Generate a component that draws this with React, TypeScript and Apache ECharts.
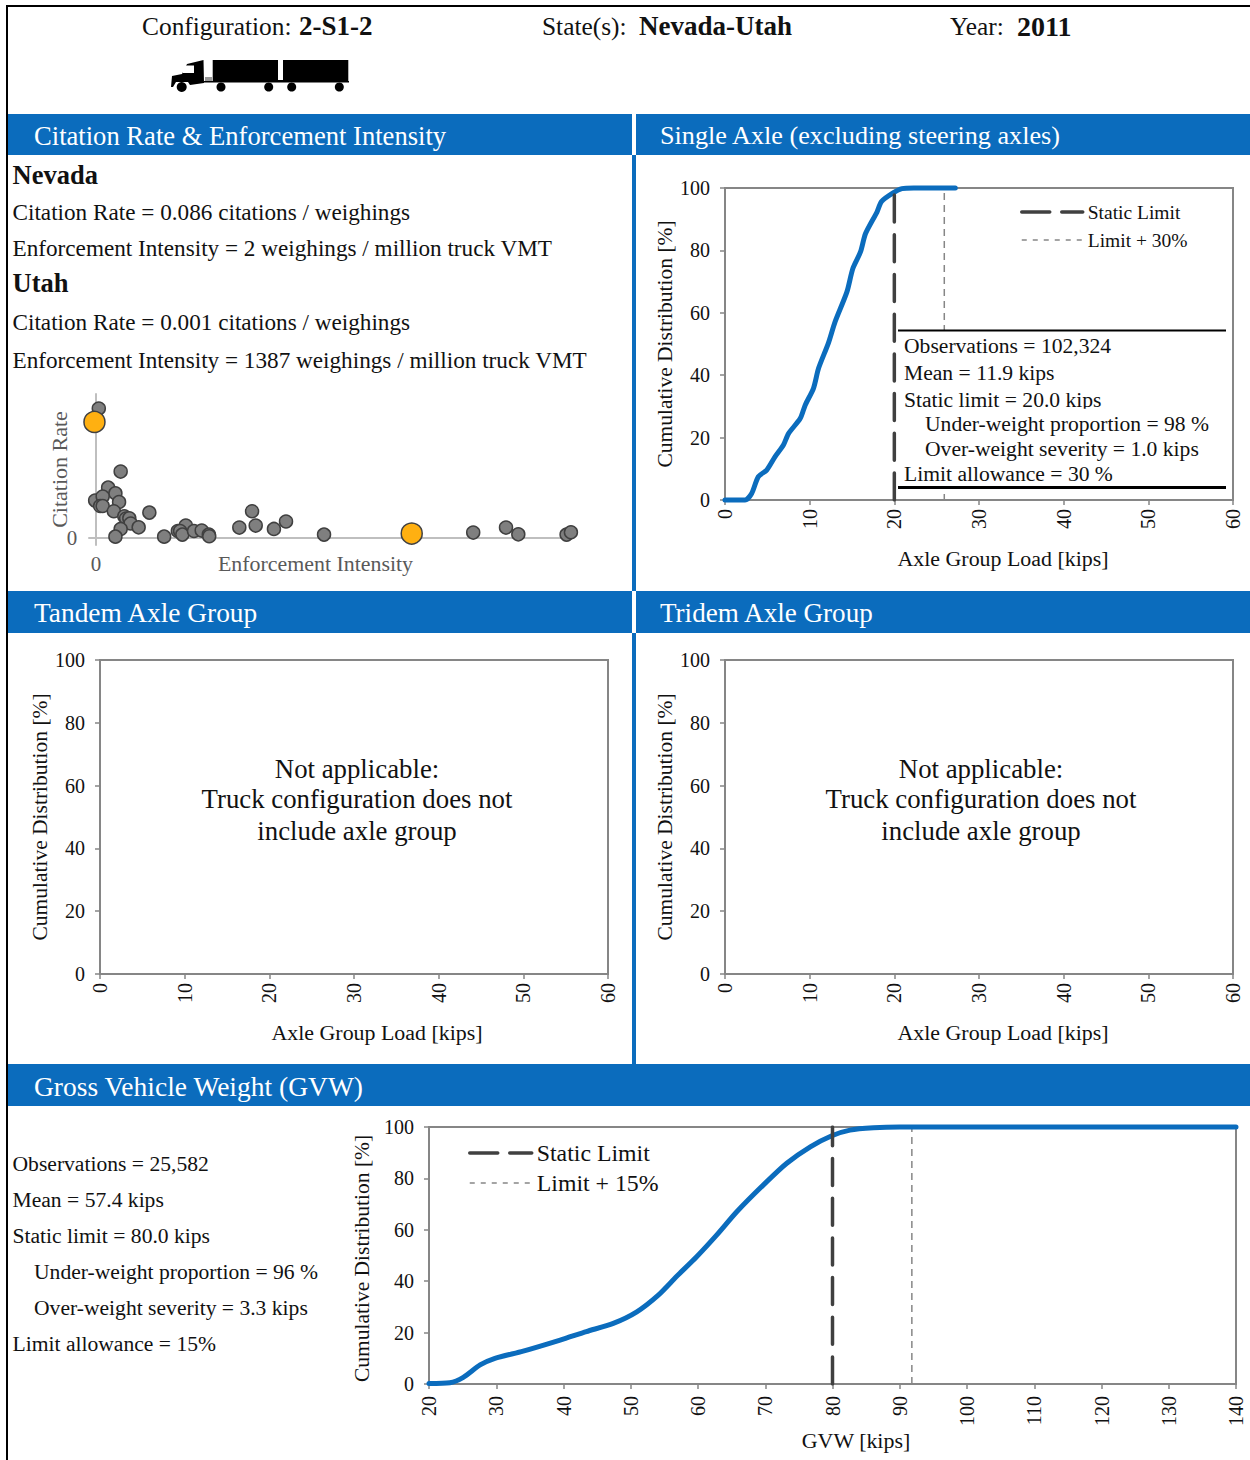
import React, { useEffect, useRef } from "react";
import * as echarts from "echarts";

const FONT = "'Liberation Serif', serif";
const BLUE = "#0B6CBD";
const GREY = "#868686";
const DARK = "#404040";
const INK = "#111111";

const singleAxle: number[][] = [[0,0],[2.37,0],[3.15,2.1],[3.94,7.5],[4.93,9.6],[5.92,13.9],[6.9,17.6],[7.5,21.3],[8.88,26.1],[9.47,30.4],[10.45,35.8],[11.05,42.2],[12.2,50.2],[13,57.1],[14.4,66.7],[15.1,74.2],[16,79.5],[16.6,85.4],[17.95,92.3],[18.5,95.7],[19.9,98.5],[20.9,99.8],[22.3,100],[27.2,100]];
const gvw: number[][] = [[20,0.2],[23.1,0.5],[25.1,2.6],[27.6,7.4],[29.8,10],[34,12.8],[39.5,17.1],[43.4,20.4],[47.4,23.6],[50.9,28.1],[54.1,34.6],[56.8,41.8],[59.8,49.5],[62.8,58],[65.8,67.1],[69.7,77.4],[73.2,85.9],[76.7,92.3],[79.9,96.6],[82.6,98.8],[86.1,99.7],[90,100],[140,100]];
const singleStatic: number[][] = [[20,0],[20,100]];
const singleLimit: number[][] = [[25.9,0],[25.9,100]];
const gvwStatic: number[][] = [[80,0],[80,100]];
const gvwLimit: number[][] = [[91.8,0],[91.8,100]];
const otherStates: number[][] = [[12,0.0959],[108,0.0492],[53,0.0373],[85,0.0331],[-4,0.0277],[29,0.0307],[18,0.0237],[29,0.0237],[101,0.0267],[78,0.0198],[124,0.0161],[132,0.0144],[146,0.0146],[152,0.0107],[187,0.0079],[108,0.0067],[85,0.001],[234,0.0188],[299,0.001],[394,0.0092],[359,0.0052],[369,0.0052],[379,0.0025],[430,0.0052],[464,0.0055],[495,0.0025],[497,0.0013],[629,0.0077],[701,0.0092],[781,0.0067],[685,0.0198],[834,0.0122],[1001,0.0025],[1656,0.004],[1800,0.0077],[1854,0.0027],[2066,0.0025],[2085,0.0042]];
const selectedStates: number[][] = [[-7,0.086],[1386,0.0033]];

const headers = [
  { text: "Citation Rate & Enforcement Intensity", x0: 8, x1: 632, y0: 114, y1: 155, tx: 34, size: 26.6 },
  { text: "Single Axle (excluding steering axles)", x0: 636, x1: 1250, y0: 114, y1: 155, tx: 660, size: 26.2 },
  { text: "Tandem Axle Group", x0: 8, x1: 632, y0: 591, y1: 633, tx: 34, size: 27.4 },
  { text: "Tridem Axle Group", x0: 636, x1: 1250, y0: 591, y1: 633, tx: 660, size: 27.1 },
  { text: "Gross Vehicle Weight (GVW)", x0: 8, x1: 1250, y0: 1064, y1: 1106, tx: 34, size: 27.5 },
];
const stateLines: [string, number, number, number, boolean][] = [
  ["Nevada", 12.5, 175, 26.5, true],
  ["Citation Rate = 0.086 citations / weighings", 12.5, 212, 23.2, false],
  ["Enforcement Intensity = 2 weighings / million truck VMT", 12.5, 248, 23.2, false],
  ["Utah", 12.5, 283, 26.5, true],
  ["Citation Rate = 0.001 citations / weighings", 12.5, 322, 23.2, false],
  ["Enforcement Intensity = 1387 weighings / million truck VMT", 12.5, 360, 23.2, false],
];
const singleStats: [string, number, number][] = [
  ["Observations = 102,324", 904, 346],
  ["Mean = 11.9 kips", 904, 373],
  ["Static limit = 20.0 kips", 904, 400],
  ["Under-weight proportion = 98 %", 925, 424],
  ["Over-weight severity = 1.0 kips", 925, 449],
  ["Limit allowance = 30 %", 904, 474],
];
const gvwStats: [string, number, number][] = [
  ["Observations = 25,582", 12.5, 1164],
  ["Mean = 57.4 kips", 12.5, 1200],
  ["Static limit = 80.0 kips", 12.5, 1236],
  ["Under-weight proportion = 96 %", 34, 1272],
  ["Over-weight severity = 3.3 kips", 34, 1308],
  ["Limit allowance = 15%", 12.5, 1344],
];
const notApplicable = ["Not applicable:", "Truck configuration does not", "include axle group"];

function txt(text: string, x: number, y: number, size: number, opts: any = {}) {
  return {
    type: "text", x, y, z: 20,
    style: {
      text, fontFamily: FONT, fontSize: size, fontWeight: opts.bold ? "bold" : "normal",
      fill: opts.fill || INK, textAlign: opts.align || "left", textVerticalAlign: "middle",
    },
  };
}
function rect(x: number, y: number, w: number, h: number, fill: string, z = 15) {
  return { type: "rect", z, shape: { x, y, width: w, height: h }, style: { fill } };
}
function wheel(cx: number, cy: number, r: number) {
  return { type: "circle", z: 16, shape: { cx, cy, r }, style: { fill: "#000" } };
}

function truck() {
  return [
    rect(212.7, 60, 65.3, 21, "#000"),
    rect(283, 60, 65.3, 21, "#000"),
    rect(278, 80, 5, 1.5, "#000"),
    rect(204, 81, 145, 1.5, "#000"),
    {
      type: "polygon", z: 16,
      shape: { points: [[171, 87], [172, 76], [182, 74], [187, 64], [203.5, 60], [204, 83], [190, 85], [188, 82], [176, 82], [173, 87]] },
      style: { fill: "#000" },
    },
    rect(183, 65.5, 11, 7.5, "#fff", 17),
    rect(205, 77, 7, 4, "#999", 17),
    wheel(181.7, 87, 5), wheel(221, 87, 4.5), wheel(268.7, 87, 4.5), wheel(291.7, 87, 4.5), wheel(339.3, 87, 4.5),
  ];
}

function cdfAxes(grid: number, min: number, max: number, nameLabel: string, nameGap: number, yGap: number, labelMargin: number, shift: number, yPad = 0) {
  const axis = { lineStyle: { color: GREY, width: 2 } };
  const tick = { show: true, length: 5, lineStyle: { color: GREY, width: 1.5 } };
  const nameStyle = { fontFamily: FONT, fontSize: 21.9, color: INK };
  const x = {
    type: "value", gridIndex: grid, min, max, interval: 10, splitLine: { show: false },
    axisLine: axis, axisTick: tick, name: nameLabel, nameLocation: "middle", nameGap,
    nameTextStyle: { ...nameStyle, padding: [0, 0, 0, shift] },
    axisLabel: { rotate: 90, margin: labelMargin, fontFamily: FONT, fontSize: 20, color: INK, hideOverlap: false },
  };
  const y = {
    type: "value", gridIndex: grid, min: 0, max: 100, interval: 20, splitLine: { show: false },
    axisLine: axis, axisTick: tick, name: "Cumulative Distribution [%]", nameLocation: "middle", nameGap: yGap,
    nameTextStyle: { ...nameStyle, fontSize: 21.5, padding: [0, yPad, 0, 0] },
    axisLabel: { margin: 15, fontFamily: FONT, fontSize: 20, color: INK },
  };
  return { x, y };
}
function grid(left: number, top: number, right: number, bottom: number) {
  return { show: true, left, top, width: right - left, height: bottom - top, borderColor: GREY, borderWidth: 2, backgroundColor: "transparent" };
}
function curve(i: number, data: number[][]) {
  return { type: "line", name: "Cumulative", xAxisIndex: i, yAxisIndex: i, data, symbol: "none", smooth: 0.25, clip: false, z: 3, lineStyle: { color: BLUE, width: 5, join: "round", cap: "round" } };
}
function staticLine(i: number, data: number[][]) {
  return { type: "line", name: "Static Limit", xAxisIndex: i, yAxisIndex: i, data, symbol: "none", z: 4, itemStyle: { color: DARK }, lineStyle: { color: DARK, width: 3.5, type: [27, 12.7], cap: "round" } };
}
function limitLine(i: number, name: string, data: number[][]) {
  return { type: "line", name, xAxisIndex: i, yAxisIndex: i, data, symbol: "none", z: 2, itemStyle: { color: GREY }, lineStyle: { color: GREY, width: 1.5, type: [7, 5] } };
}
function legend(names: string[], left: number, top: number, size: number, gap: number, iconW: number) {
  const hidden = { color: "rgba(0,0,0,0)", borderColor: "rgba(0,0,0,0)", borderWidth: 0, opacity: 0 };
  return {
    show: true, orient: "vertical", left, top, padding: 0, itemWidth: iconW, itemHeight: 14, itemGap: gap,
    textStyle: { fontFamily: FONT, fontSize: size, color: INK },
    data: [
      { name: names[0], itemStyle: hidden, lineStyle: { color: DARK, width: 3.5, type: [28, 12], cap: "round" } },
      { name: names[1], itemStyle: hidden, lineStyle: { color: GREY, width: 1.3, type: [5, 6] } },
    ],
  };
}

export default function App() {
  const ref = useRef<HTMLDivElement>(null);
  useEffect(() => {
    if (!ref.current) return;
    const chart = echarts.init(ref.current, undefined, { renderer: "svg" });

    const a0 = cdfAxes(0, 0, 60, "Axle Group Load [kips]", 47, 49, 9, 48);
    const a1 = cdfAxes(1, 0, 60, "Axle Group Load [kips]", 47, 49, 9, 46);
    const a2 = cdfAxes(2, 0, 60, "Axle Group Load [kips]", 47, 49, 9, 48);
    const a3 = cdfAxes(3, 20, 140, "GVW [kips]", 44, 49, 12, 47, 6);

    const scatterX = {
      type: "value", gridIndex: 4, min: -31, max: 2081, splitLine: { show: false },
      axisLine: { onZero: true, lineStyle: { color: "#BFBFBF", width: 2 } }, axisTick: { show: false },
      axisLabel: { show: false },
      name: "Enforcement Intensity", nameLocation: "middle", nameGap: 7,
      nameTextStyle: { fontFamily: FONT, fontSize: 21.9, color: "#595959", padding: [0, 28, 0, 0] },
    };
    const scatterY = {
      type: "value", gridIndex: 4, min: -0.0052, max: 0.1067, splitLine: { show: false },
      axisLine: { onZero: true, lineStyle: { color: "#BFBFBF", width: 2 } }, axisTick: { show: false },
      axisLabel: { show: false },
      name: "Citation Rate", nameLocation: "middle", nameGap: 19,
      nameTextStyle: { fontFamily: FONT, fontSize: 22, color: "#595959" },
    };

    const elements: any[] = [
      rect(6, 5, 1244, 2, "#000"),
      rect(6, 5, 2, 1455, "#000"),
      rect(632, 155, 4, 436, BLUE),
      rect(632, 633, 4, 431, BLUE),
      txt("Configuration:", 142, 26, 25.4),
      txt("2-S1-2", 299, 26, 27, { bold: true }),
      txt("State(s):", 542, 26, 25.4),
      txt("Nevada-Utah", 639, 26, 27, { bold: true }),
      txt("Year:", 950, 26, 25.4),
      txt("2011", 1017, 26, 28, { bold: true }),
      ...truck(),
      ...headers.flatMap((h) => [rect(h.x0, h.y0, h.x1 - h.x0, h.y1 - h.y0, BLUE), txt(h.text, h.tx, (h.y0 + h.y1) / 2 + 1, h.size, { fill: "#fff" })]),
      ...stateLines.map(([t, x, y, s, b]) => txt(t, x, y, s, { bold: b })),
      txt("0", 72, 538, 21, { fill: "#595959", align: "center" }),
      txt("0", 96, 564, 21, { fill: "#595959", align: "center" }),
      rect(897, 331, 331, 163, "#fff", 10),
      rect(898, 329.5, 328, 2, "#000"),
      rect(898, 486, 328, 3, "#000"),
      ...singleStats.map(([t, x, y]) => txt(t, x, y, 21.6)),
      rect(903, 408.7, 320, 4, "#fff", 21),
      ...gvwStats.map(([t, x, y]) => txt(t, x, y, 21.6)),
      ...notApplicable.flatMap((t, i) => [
        txt(t, 357, [769, 799, 831][i], 26.8, { align: "center" }),
        txt(t, 981, [769, 799, 831][i], 26.8, { align: "center" }),
      ]),
    ];

    chart.setOption({
      animation: false,
      backgroundColor: "#fff",
      grid: [
        grid(725, 188, 1233, 500),
        grid(100, 660, 608, 974),
        grid(725, 660, 1233, 974),
        grid(429, 1127, 1236, 1384),
        { show: false, left: 89, top: 394, width: 481, height: 151 },
      ],
      xAxis: [a0.x, a1.x, a2.x, a3.x, scatterX],
      yAxis: [a0.y, a1.y, a2.y, a3.y, scatterY],
      legend: [
        legend(["Static Limit", "Limit + 30%"], 1020, 202, 19.5, 8, 61),
        legend(["Static Limit", "Limit + 15%"], 468, 1141, 23.8, 6, 62),
      ],
      series: [
        limitLine(0, "Limit + 30%", singleLimit),
        curve(0, singleAxle),
        staticLine(0, singleStatic),
        limitLine(3, "Limit + 15%", gvwLimit),
        curve(3, gvw),
        staticLine(3, gvwStatic),
        {
          type: "scatter", name: "Other states", xAxisIndex: 4, yAxisIndex: 4, data: otherStates, symbolSize: 13, clip: false, z: 3,
          itemStyle: { color: "#7F7F7F", borderColor: DARK, borderWidth: 1.5, opacity: 1 },
        },
        {
          type: "scatter", name: "Selected states", xAxisIndex: 4, yAxisIndex: 4, data: selectedStates, symbolSize: 21, clip: false, z: 4,
          itemStyle: { color: "#FFB011", borderColor: DARK, borderWidth: 1.5, opacity: 1 },
        },
      ],
      graphic: { elements },
    });
    return () => chart.dispose();
  }, []);
  return <div ref={ref} style={{ position: "absolute", left: 0, top: 0, width: 1250, height: 1460 }} />;
}
